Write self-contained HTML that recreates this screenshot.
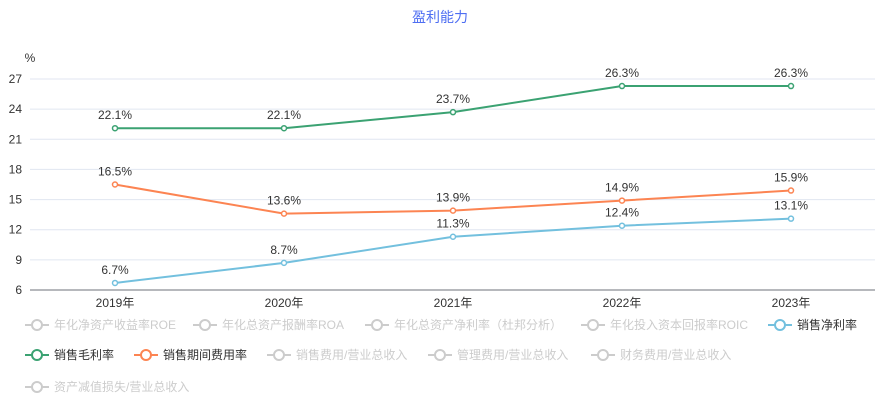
<!DOCTYPE html>
<html><head><meta charset="utf-8"><style>
body{margin:0;background:#fff;}
svg{display:block;font-family:"Liberation Sans","Noto Sans CJK SC",sans-serif;}
</style></head><body>
<svg id="chart" width="880" height="400" viewBox="0 0 880 400">
<text x="440" y="22" text-anchor="middle" font-size="14" fill="#4e6ef2">盈利能力</text>
<text x="30" y="62" text-anchor="middle" font-size="12" fill="#333">%</text>
<g id="grid"></g><g id="series"></g><g id="legend"></g>
</svg>
<script>
const categories=["2019年","2020年","2021年","2022年","2023年"];
const yTicks=[6,9,12,15,18,21,24,27];
const grossMargin=[22.1,22.1,23.7,26.3,26.3];
const expenseRate=[16.5,13.6,13.9,14.9,15.9];
const netMargin=[6.7,8.7,11.3,12.4,13.1];
const NS="http://www.w3.org/2000/svg";
const x0=115,xStep=169,yTop=79,yBot=290,yMin=6,yMax=27;
const xs=i=>x0+i*xStep;
const ys=v=>yBot-(v-yMin)/(yMax-yMin)*(yBot-yTop);
function mk(tag,attrs,parent,text){const e=document.createElementNS(NS,tag);for(const k in attrs)e.setAttribute(k,attrs[k]);if(text!==undefined)e.textContent=text;parent.appendChild(e);return e;}
const grid=document.getElementById('grid');
yTicks.forEach(t=>{
  const l=mk('line',{x1:30,x2:875,y1:ys(t),y2:ys(t),stroke:t===yMin?'#6e7079':'#e0e6f1','stroke-width':1},grid);
  
  
  const tx=mk('text',{x:22,y:ys(t)+4,'text-anchor':'end','font-size':12,fill:'#333'},grid,String(t));
  
  
});
categories.forEach((c,i)=>{
  const tx=mk('text',{x:xs(i),y:307,'text-anchor':'middle','font-size':12,fill:'#333'},grid,c);
  
  
});
const sg=document.getElementById('series');
function drawSeries(vals,color,name){
  const g=mk('g',{},sg);
  
  
  const p=mk('polyline',{points:vals.map((v,i)=>xs(i)+','+ys(v)).join(' '),fill:'none',stroke:color,'stroke-width':2},g);
  
  
  vals.forEach((v,i)=>{
    const c=mk('circle',{cx:xs(i),cy:ys(v),r:2.5,fill:'#fff',stroke:color,'stroke-width':1.5},g);
    
    
    const t=mk('text',{x:xs(i),y:ys(v)-9,'text-anchor':'middle','font-size':12,fill:'#333'},g,v.toFixed(1)+'%');
    
    
  });
}
drawSeries(netMargin,'#73c0de','net-margin');
drawSeries(expenseRate,'#fc8452','expense-rate');
drawSeries(grossMargin,'#3ba272','gross-margin');
const lg=document.getElementById('legend');
const items=[
 ["年化净资产收益率ROE",54,325,"#ccc"],["年化总资产报酬率ROA",222,325,"#ccc"],["年化总资产净利率（杜邦分析）",394,325,"#ccc"],["年化投入资本回报率ROIC",610,325,"#ccc"],["销售净利率",797,325,"#73c0de"],
 ["销售毛利率",54,355,"#3ba272"],["销售期间费用率",163,355,"#fc8452"],["销售费用/营业总收入",296,355,"#ccc"],["管理费用/营业总收入",457,355,"#ccc"],["财务费用/营业总收入",620,355,"#ccc"],
 ["资产减值损失/营业总收入",54,387,"#ccc"]];
items.forEach(it=>{
  const g=mk('g',{},lg);
  
  
  const ix=it[1]-29;
  mk('line',{x1:ix,x2:ix+24,y1:it[2],y2:it[2],stroke:it[3],'stroke-width':2},g);
  mk('circle',{cx:ix+12,cy:it[2],r:5,fill:'#fff',stroke:it[3],'stroke-width':2},g);
  mk('text',{x:it[1],y:it[2]+4,'font-size':12,fill:it[3]==='#ccc'?'#ccc':'#333'},g,it[0]);
});
</script>
</body></html>
